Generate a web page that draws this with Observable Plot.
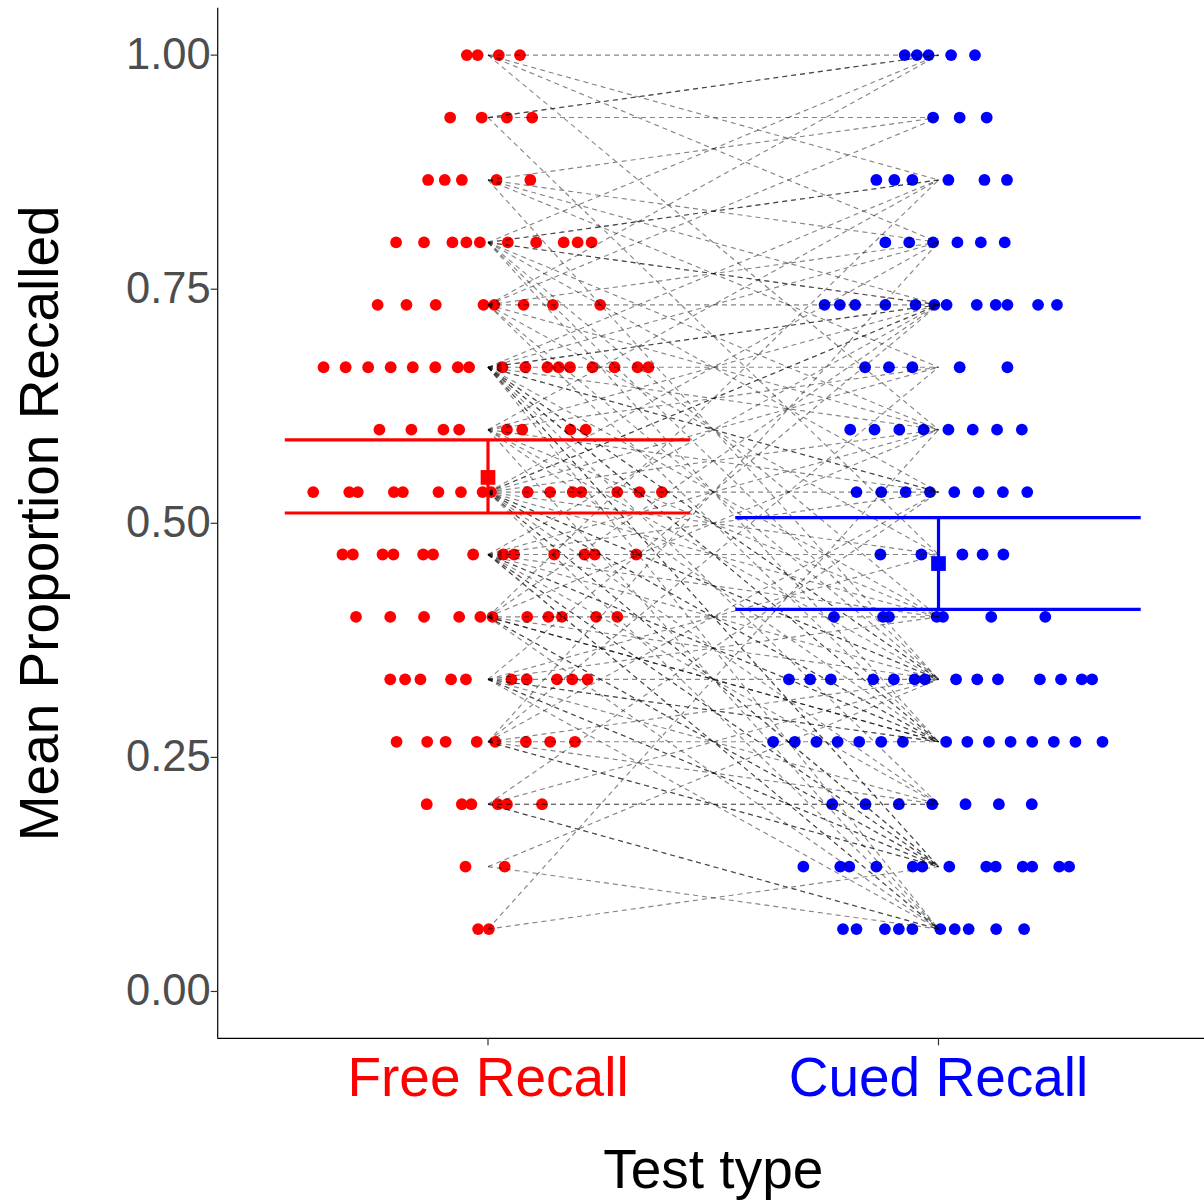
<!DOCTYPE html>
<html>
<head>
<meta charset="utf-8">
<script src="https://cdn.jsdelivr.net/npm/d3@7"></script>
<script src="https://cdn.jsdelivr.net/npm/@observablehq/plot@0.6"></script>
<style>
  html, body { margin: 0; padding: 0; background: #ffffff; }
  #chart svg { display: block; }
</style>
</head>
<body>
<div id="chart"></div>
<script>
// Test conditions (within-subject design, 124 participants, 15 items per list)
const testTypes = ["Free Recall", "Cued Recall"];
const testColors = ["#FF0000", "#0000FF"];
const nItems = 15;

// Items recalled per participant under free recall (participants sorted by this score)
const freeRecalled = [
  15, 15, 15, 15,
  14, 14, 14, 14,
  13, 13, 13, 13, 13,
  12, 12, 12, 12, 12, 12, 12, 12, 12, 12,
  11, 11, 11, 11, 11, 11, 11, 11,
  10, 10, 10, 10, 10, 10, 10, 10, 10, 10, 10, 10, 10, 10, 10, 10, 10,
  9, 9, 9, 9, 9, 9, 9, 9,
  8, 8, 8, 8, 8, 8, 8, 8, 8, 8, 8, 8, 8, 8, 8, 8,
  7, 7, 7, 7, 7, 7, 7, 7, 7, 7, 7, 7, 7,
  6, 6, 6, 6, 6, 6, 6, 6, 6, 6, 6,
  5, 5, 5, 5, 5, 5, 5, 5, 5, 5,
  4, 4, 4, 4, 4, 4, 4, 4,
  3, 3, 3, 3, 3, 3,
  2, 2,
  1, 1
];

// Items recalled by the same participants under cued recall
const cuedRecalled = [
  15, 13, 12, 9,
  15, 15, 14, 7,
  14, 12, 11, 10, 5,
  15, 13, 13, 11, 11, 9, 8, 6, 5, 4,
  15, 14, 12, 11, 9, 7, 5, 4,
  13, 12, 11, 11, 10, 9, 8, 8, 6, 5, 5, 4, 4, 3, 2, 2, 1,
  13, 11, 10, 8, 6, 5, 4, 1,
  12, 11, 11, 10, 9, 8, 7, 6, 5, 5, 4, 4, 3, 2, 2, 1,
  11, 9, 8, 7, 6, 5, 4, 4, 3, 2, 2, 1, 1,
  13, 11, 9, 6, 5, 4, 4, 4, 2, 2, 1,
  11, 7, 6, 5, 4, 4, 3, 2, 2, 1,
  12, 10, 8, 5, 4, 3, 2, 2,
  8, 5, 3, 3, 1, 1,
  5, 1,
  9, 2
];

// Horizontal jitter of each point (category units), listed from the highest score down
const freeJitter = [
  -0.047, -0.023, 0.024, 0.071,
  -0.084, -0.014, 0.042, 0.098,
  -0.133, -0.096, -0.058, 0.019, 0.094,
  -0.204, -0.142, -0.079, -0.048, -0.018, 0.044, 0.107, 0.168, 0.199, 0.230,
  -0.245, -0.181, -0.116, -0.010, 0.014, 0.079, 0.144, 0.249,
  -0.365, -0.316, -0.266, -0.216, -0.167, -0.117, -0.067, -0.042, 0.032, 0.083, 0.132, 0.157, 0.182, 0.232, 0.281, 0.332, 0.356,
  -0.241, -0.170, -0.099, -0.064, 0.042, 0.076, 0.183, 0.217,
  -0.388, -0.308, -0.289, -0.209, -0.189, -0.110, -0.060, -0.012, 0.007, 0.088, 0.138, 0.188, 0.207, 0.287, 0.336, 0.386,
  -0.323, -0.300, -0.234, -0.210, -0.144, -0.122, -0.033, 0.034, 0.058, 0.147, 0.214, 0.237, 0.329,
  -0.293, -0.217, -0.142, -0.064, -0.017, 0.010, 0.087, 0.134, 0.164, 0.240, 0.287,
  -0.217, -0.184, -0.150, -0.082, -0.049, 0.052, 0.086, 0.153, 0.187, 0.221,
  -0.203, -0.135, -0.094, -0.025, 0.016, 0.084, 0.138, 0.193,
  -0.136, -0.058, -0.037, 0.022, 0.042, 0.120,
  -0.050, 0.037,
  -0.022, 0.002
];

const cuedJitter = [
  -0.075, -0.048, -0.022, 0.028, 0.081,
  -0.012, 0.047, 0.107,
  -0.138, -0.098, -0.058, 0.022, 0.102, 0.152,
  -0.118, -0.065, -0.012, 0.042, 0.094, 0.147,
  -0.253, -0.219, -0.185, -0.118, -0.051, -0.009, 0.018, 0.085, 0.127, 0.153, 0.221, 0.263,
  -0.163, -0.110, -0.058, 0.047, 0.153,
  -0.196, -0.142, -0.087, -0.033, 0.022, 0.076, 0.130, 0.185,
  -0.182, -0.127, -0.073, -0.019, 0.035, 0.089, 0.143, 0.197,
  -0.129, -0.038, 0.053, 0.098, 0.144,
  -0.232, -0.123, -0.110, -0.004, 0.010, 0.117, 0.237,
  -0.332, -0.285, -0.239, -0.145, -0.099, -0.053, -0.030, 0.039, 0.086, 0.132, 0.225, 0.272, 0.318, 0.341,
  -0.367, -0.319, -0.271, -0.224, -0.176, -0.127, -0.079, 0.017, 0.064, 0.112, 0.160, 0.208, 0.256, 0.304, 0.364,
  -0.236, -0.162, -0.088, -0.014, 0.060, 0.134, 0.207,
  -0.300, -0.218, -0.198, -0.138, -0.057, -0.036, 0.024, 0.106, 0.127, 0.187, 0.208, 0.268, 0.290,
  -0.212, -0.182, -0.119, -0.088, -0.058, 0.004, 0.036, 0.067, 0.128, 0.190
];

// Condition means with their confidence limits
const meanRecalled = [0.549, 0.457];
const ciLower = [0.511, 0.408];
const ciUpper = [0.589, 0.506];

const yTicks = [0, 0.25, 0.5, 0.75, 1];
const xTitle = "Test type";
const yTitle = "Mean Proportion Recalled";

// Scale extents (ggplot-style expansion around the two categories and 0–1)
const xDomain = [0.4, 2.6];
const yDomain = [-0.05, 1.05];

const fontFamily = "'Liberation Sans', Arial, Helvetica, sans-serif";

const participants = freeRecalled.map((f, i) => ({
  free: f / nItems,
  cued: cuedRecalled[i] / nItems
}));

const freeDots = d3.sort(participants, d => -d.free)
  .map((d, k) => ({pos: 1 + freeJitter[k], score: d.free}));
const cuedDots = d3.sort(participants, d => -d.cued)
  .map((d, k) => ({pos: 2 + cuedJitter[k], score: d.cued}));

const summary = testTypes.map((t, i) => ({
  label: t,
  pos: i + 1,
  mean: meanRecalled[i],
  lo: ciLower[i],
  hi: ciUpper[i],
  color: testColors[i]
}));

// Short tick marks drawn as custom symbols
const yTickSymbol = {draw(ctx) { ctx.moveTo(-7, 0); ctx.lineTo(0, 0); }};
const xTickSymbol = {draw(ctx) { ctx.moveTo(0, 0); ctx.lineTo(0, 7); }};

const chart = Plot.plot({
  width: 1204,
  height: 1200,
  marginLeft: 217,
  marginRight: 0,
  marginTop: 8,
  marginBottom: 162,
  x: {domain: xDomain, range: [217.2, 1208.3], axis: null},
  y: {domain: yDomain, range: [1037.8, 7.8], axis: null},
  color: {type: "identity"},
  style: {background: "#ffffff", fontFamily},
  marks: [
    // individual scores
    Plot.dot(freeDots, {x: "pos", y: "score", r: 5.9, fill: testColors[0], stroke: "none"}),
    Plot.dot(cuedDots, {x: "pos", y: "score", r: 5.9, fill: testColors[1], stroke: "none"}),
    // each participant's free → cued change
    Plot.link(participants, {
      x1: () => 1, x2: () => 2, y1: "free", y2: "cued",
      stroke: "#000000", strokeOpacity: 0.48, strokeWidth: 1.15, strokeDasharray: "5,4"
    }),
    // error bars and means
    Plot.ruleY(summary, {y: "lo", x1: d => d.pos - 0.45, x2: d => d.pos + 0.45, stroke: "color", strokeWidth: 3.2}),
    Plot.ruleY(summary, {y: "hi", x1: d => d.pos - 0.45, x2: d => d.pos + 0.45, stroke: "color", strokeWidth: 3.2}),
    Plot.ruleX(summary, {x: "pos", y1: "lo", y2: "hi", stroke: "color", strokeWidth: 3.2}),
    Plot.dot(summary, {x: "pos", y: "mean", symbol: "square", r: 8.3, fill: "color", stroke: "none"}),
    // axis lines
    Plot.ruleX([xDomain[0]], {y1: yDomain[0], y2: yDomain[1], stroke: "#000000", strokeWidth: 1.2}),
    Plot.ruleY([yDomain[0]], {x1: xDomain[0], x2: xDomain[1], stroke: "#000000", strokeWidth: 1.2}),
    // ticks
    Plot.dot(yTicks, {x: () => xDomain[0], y: d => d, symbol: yTickSymbol, fill: "none", stroke: "#333333", strokeWidth: 1.2}),
    Plot.dot(summary, {x: "pos", y: () => yDomain[0], symbol: xTickSymbol, fill: "none", stroke: "#333333", strokeWidth: 1.2}),
    // tick labels
    Plot.text(yTicks, {
      x: () => xDomain[0], y: d => d, text: d => d3.format(".2f")(d),
      textAnchor: "end", lineAnchor: "middle", dx: -7,
      fontSize: 43.5, fill: "#4D4D4D", fontFamily
    }),
    Plot.text(summary, {
      x: "pos", y: () => yDomain[0], text: "label",
      textAnchor: "middle", lineAnchor: "top", dy: 19,
      fontSize: 55, fill: "color", fontFamily
    }),
    // axis titles
    Plot.text([xTitle], {
      x: () => (xDomain[0] + xDomain[1]) / 2, y: () => yDomain[0], text: d => d,
      textAnchor: "middle", lineAnchor: "top", dy: 111,
      fontSize: 55, fill: "#000000", fontFamily
    }),
    Plot.text([yTitle], {
      x: () => xDomain[0], y: () => (yDomain[0] + yDomain[1]) / 2, text: d => d,
      rotate: -90, textAnchor: "middle", lineAnchor: "middle", dx: -177,
      fontSize: 55, fill: "#000000", fontFamily
    })
  ]
});

document.getElementById("chart").appendChild(chart);
</script>
</body>
</html>
